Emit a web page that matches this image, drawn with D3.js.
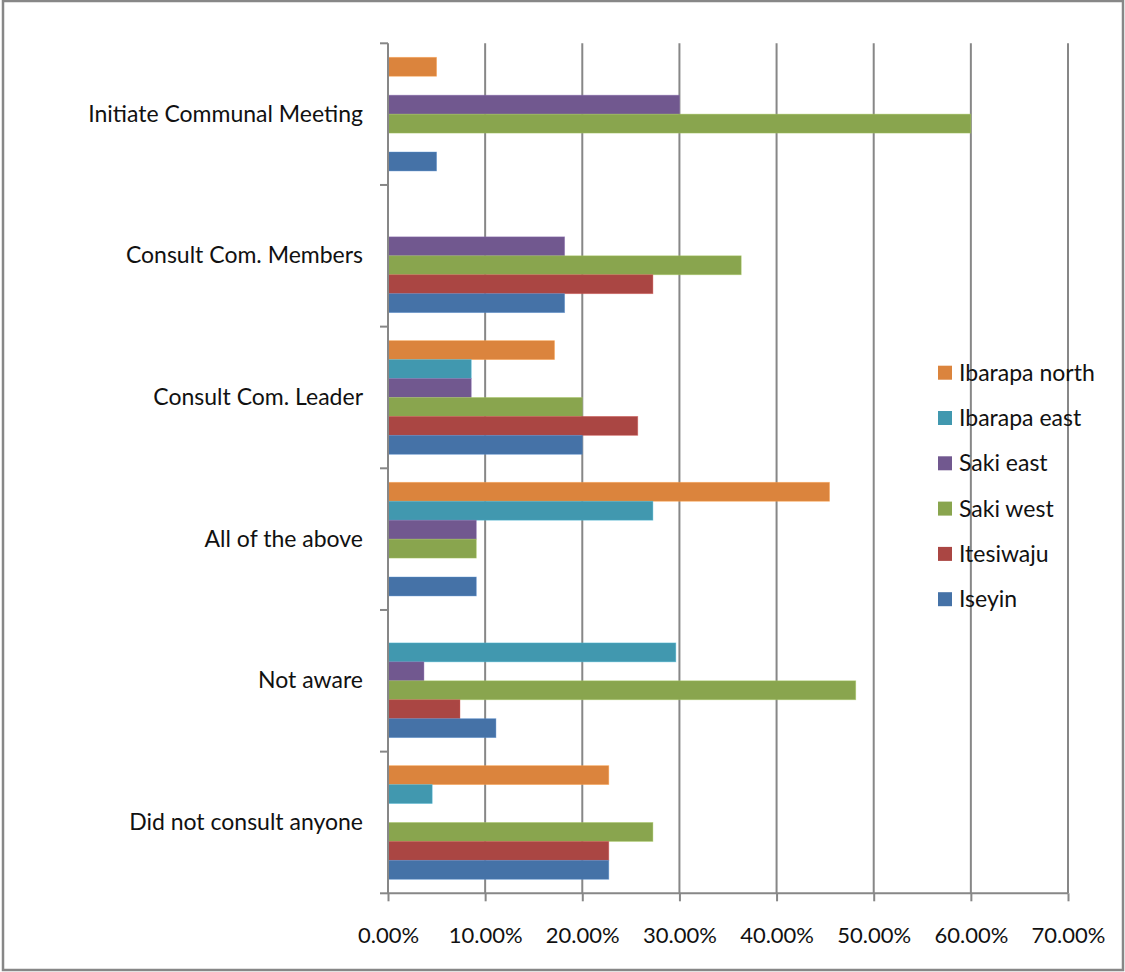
<!DOCTYPE html>
<html>
<head>
<meta charset="utf-8">
<script src="https://cdn.jsdelivr.net/npm/d3@7"></script>
<style>
  html, body { margin: 0; padding: 0; background: #fff; }
  svg { display: block; font-family: Lato, "Open Sans", sans-serif; }
</style>
</head>
<body>
<svg id="chart" width="1125" height="972"></svg>
<script>
// Response categories, top to bottom
const categories = [
  "Initiate Communal Meeting",
  "Consult Com. Members",
  "Consult Com. Leader",
  "All of the above",
  "Not aware",
  "Did not consult anyone"
];

// Local government areas, in the order bars are stacked inside each group (top to bottom)
const seriesNames = ["Ibarapa north", "Ibarapa east", "Saki east", "Saki west", "Itesiwaju", "Iseyin"];
const seriesColors = ["#DB843D", "#4198AF", "#71588F", "#89A54E", "#AA4643", "#4572A7"];

// Share of respondents (%) per category, one array per area
const ibarapaNorth = [5.00, 0, 17.14, 45.45, 0, 22.73];
const ibarapaEast  = [0, 0, 8.57, 27.27, 29.63, 4.55];
const sakiEast     = [30.00, 18.18, 8.57, 9.09, 3.70, 0];
const sakiWest     = [60.00, 36.36, 20.00, 9.09, 48.15, 27.27];
const itesiwaju    = [0, 27.27, 25.71, 0, 7.41, 22.73];
const iseyin       = [5.00, 18.18, 20.00, 9.09, 11.11, 22.73];

const xTicks = [0, 10, 20, 30, 40, 50, 60, 70];

const seriesValues = [ibarapaNorth, ibarapaEast, sakiEast, sakiWest, itesiwaju, iseyin];

const svg = d3.select("#chart");
const gridColor = "#878787";
const textColor = "#111";
const labelSize = 23;
const tickSize = 22;

// Outer frame
svg.append("rect")
  .attr("x", 3).attr("y", 1)
  .attr("width", 1120).attr("height", 969)
  .attr("fill", "#fff")
  .attr("stroke", gridColor)
  .attr("stroke-width", 2.5);

const plot = { left: 388, right: 1068, top: 43.3, bottom: 893.3 };

const x = d3.scaleLinear().domain([0, 70]).range([plot.left, plot.right]);
const y = d3.scaleBand().domain(categories).range([plot.top, plot.bottom]).padding(0);
const ySeries = d3.scaleBand().domain(seriesNames).range([0, y.bandwidth()])
  .paddingInner(0).paddingOuter(0.74);
const color = d3.scaleOrdinal().domain(seriesNames).range(seriesColors);

// Vertical gridlines
svg.append("g")
  .selectAll("line")
  .data(xTicks.slice(1))
  .join("line")
  .attr("x1", d => x(d)).attr("x2", d => x(d))
  .attr("y1", plot.top).attr("y2", plot.bottom)
  .attr("stroke", gridColor)
  .attr("stroke-width", 2);

// Bars
const rows = [];
categories.forEach((c, i) => {
  seriesNames.forEach((s, j) => rows.push({ cat: c, series: s, value: seriesValues[j][i] }));
});

svg.append("g")
  .selectAll("rect")
  .data(rows.filter(d => d.value > 0))
  .join("rect")
  .attr("x", x(0))
  .attr("y", d => y(d.cat) + ySeries(d.series))
  .attr("width", d => x(d.value) - x(0))
  .attr("height", ySeries.bandwidth())
  .attr("fill", d => color(d.series))
  .attr("stroke", d => d3.color(color(d.series)).brighter(0.6))
  .attr("stroke-opacity", 0.5)
  .attr("stroke-width", 0.8);

// Bottom axis
const xAxis = svg.append("g")
  .attr("transform", `translate(0,${plot.bottom})`)
  .call(d3.axisBottom(x).tickValues(xTicks).tickSize(8).tickPadding(26)
    .tickFormat(d => d.toFixed(2) + "%"));
xAxis.select(".domain").attr("stroke", gridColor).attr("stroke-width", 2)
  .attr("d", `M${plot.left},0H${plot.right}`);
xAxis.selectAll(".tick line").attr("stroke", gridColor).attr("stroke-width", 2);
xAxis.selectAll(".tick text")
  .attr("fill", textColor)
  .attr("font-size", tickSize)
  .attr("font-family", "Lato, 'Open Sans', sans-serif");

// Left axis with category boundary ticks
const yAxis = svg.append("g")
  .attr("transform", `translate(${plot.left},0)`);
yAxis.append("line")
  .attr("x1", 0).attr("x2", 0)
  .attr("y1", plot.top).attr("y2", plot.bottom)
  .attr("stroke", gridColor).attr("stroke-width", 2);
const boundaries = categories.map(c => y(c)).concat([y(categories[categories.length - 1]) + y.bandwidth()]);
yAxis.selectAll("line.tick")
  .data(boundaries)
  .join("line")
  .attr("class", "tick")
  .attr("x1", -8).attr("x2", 0)
  .attr("y1", d => d).attr("y2", d => d)
  .attr("stroke", gridColor).attr("stroke-width", 2);
yAxis.selectAll("text")
  .data(categories)
  .join("text")
  .attr("x", -25)
  .attr("y", d => y(d) + y.bandwidth() / 2)
  .attr("dy", "0.33em")
  .attr("text-anchor", "end")
  .attr("fill", textColor)
  .attr("font-size", labelSize)
  .text(d => d);

// Legend
const legend = svg.append("g");
const legendTop = 372.7, legendStep = 45.3;
const items = legend.selectAll("g")
  .data(seriesNames)
  .join("g")
  .attr("transform", (d, i) => `translate(938,${legendTop + i * legendStep})`);
items.append("rect")
  .attr("x", 0).attr("y", -7)
  .attr("width", 14).attr("height", 14)
  .attr("fill", d => color(d));
items.append("text")
  .attr("x", 21).attr("y", 0)
  .attr("dy", "0.35em")
  .attr("fill", textColor)
  .attr("font-size", labelSize)
  .text(d => d);
</script>
</body>
</html>
